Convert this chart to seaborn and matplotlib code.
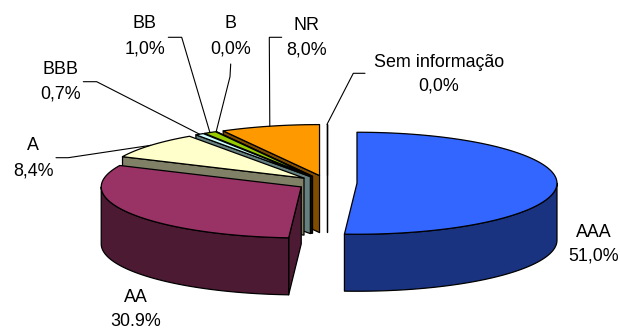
import numpy as np
import matplotlib
matplotlib.use("Agg")
import matplotlib.pyplot as plt
from matplotlib.patches import Polygon
from matplotlib.colors import to_rgb
import seaborn as sns

# ---- data ----
categories = ["AAA", "AA", "A", "BBB", "BB", "B", "NR", "Sem informação"]
shares = [51.0, 30.9, 8.4, 0.7, 1.0, 0.0, 8.0, 0.0]
pct_labels = ["51,0%", "30.9%", "8,4%", "0,7%", "1,0%", "0,0%", "8,0%", "0,0%"]
top_colors = ["#3366FF", "#993366", "#FFFFCC", "#CCFFFF",
              "#99CC00", "#FFCC00", "#FF9900", "#CC99FF"]

# ---- style ----
sns.set_style("white")
plt.rcParams["font.family"] = ["Liberation Sans", "DejaVu Sans"]
FS = 12.9

W, H = 620, 329
fig = plt.figure(figsize=(W / 100, H / 100), dpi=100)
ax = fig.add_axes([0, 0, 1, 1])
ax.set_xlim(0, W)
ax.set_ylim(H, 0)
ax.axis("off")

# pie geometry (screen units)
cx, cy = 327, 183
rx, ry = 200, 51
depth = 57
explode = 0.15
edge_kw = dict(edgecolor="black", linewidth=0.9, joinstyle="round")


def shade(c, f=0.5):
    r, g, b = to_rgb(c)
    return (r * f, g * f, b * f)


def pt(theta, ox, oy, r=1.0):
    t = np.radians(theta)
    return ox + r * rx * np.cos(t), oy - r * ry * np.sin(t)


def arc(a, b, ox, oy):
    n = max(2, int(abs(b - a) / 1.5) + 2)
    th = np.linspace(a, b, n)
    t = np.radians(th)
    return np.column_stack([ox + rx * np.cos(t), oy - ry * np.sin(t)])


total = sum(shares)
bounds = 90 - 360 * np.concatenate([[0], np.cumsum(shares)]) / total

slices = []
for i, v in enumerate(shares):
    a, b = bounds[i + 1], bounds[i]          # counter-clockwise span [a, b]
    mid = (a + b) / 2
    ox = cx + explode * rx * np.cos(np.radians(mid))
    oy = cy - explode * ry * np.sin(np.radians(mid))
    slices.append(dict(i=i, a=a, b=b, mid=mid, ox=ox, oy=oy,
                       back=np.sin(np.radians(mid))))

order = sorted(slices, key=lambda s: -s["back"])   # far slices first

# side walls
for s in order:
    i, a, b, ox, oy = s["i"], s["a"], s["b"], s["ox"], s["oy"]
    side = shade(top_colors[i])
    zero = shares[i] == 0
    walls = []
    # radial wall on the counter-clockwise edge
    if np.cos(np.radians(b)) < -1e-6 or zero:
        p = pt(b, ox, oy)
        walls.append([(ox, oy), p, (p[0], p[1] + depth), (ox, oy + depth)])
    # radial wall on the clockwise edge
    if np.cos(np.radians(a)) > 1e-6 and not zero:
        p = pt(a, ox, oy)
        walls.append([(ox, oy), p, (p[0], p[1] + depth), (ox, oy + depth)])
    # front part of the rim
    for k in (-1, 0, 1):
        lo, hi = max(a, -180 + 360 * k), min(b, 360 * k)
        if hi > lo:
            top = arc(lo, hi, ox, oy)
            bot = top[::-1] + [0, depth]
            walls.append(np.vstack([top, bot]))
    for w in walls:
        ax.add_patch(Polygon(w, closed=True, facecolor=side, **edge_kw))

# top faces
for s in order:
    i = s["i"]
    poly = np.vstack([[s["ox"], s["oy"]], arc(s["a"], s["b"], s["ox"], s["oy"])])
    ax.add_patch(Polygon(poly, closed=True, facecolor=top_colors[i], **edge_kw))

# ---- labels ----
# (centre x, first baseline, second baseline)
label_pos = {
    "AAA": (593.5, 236.7, 260.5),
    "AA": (135.5, 302.5, 325.5),
    "A": (33.0, 150.0, 175.0),
    "BBB": (60.5, 74.0, 98.3),
    "BB": (145.0, 28.5, 53.3),
    "B": (230.5, 28.0, 53.3),
    "NR": (306.7, 29.5, 54.5),
    "Sem informação": (438.8, 66.7, 90.5),
}
# leader line start and elbow points
leaders = {
    "A": [(56.0, 157.7), (68.3, 157.7)],
    "BBB": [(83.3, 81.7), (96.7, 81.7)],
    "BB": [(168.3, 37.3), (181.7, 37.3)],
    "B": [(230.7, 64.0), (230.0, 76.7)],
    "NR": [(281.7, 37.3), (269.3, 37.3)],
    "Sem informação": [(365.0, 73.3), (353.3, 73.3)],
}

for s in slices:
    name = categories[s["i"]]
    x, y1, y2 = label_pos[name]
    ax.text(x, y1, name, ha="center", va="baseline", fontsize=FS, color="black")
    ax.text(x, y2, pct_labels[s["i"]], ha="center", va="baseline",
            fontsize=FS, color="black")
    if name in leaders:
        end = pt(s["mid"], s["ox"], s["oy"])
        xs = [p[0] for p in leaders[name]] + [end[0]]
        ys = [p[1] for p in leaders[name]] + [end[1]]
        ax.plot(xs, ys, color="black", linewidth=0.8, solid_joinstyle="miter")

fig.savefig("out.png", dpi=100, facecolor="white")
